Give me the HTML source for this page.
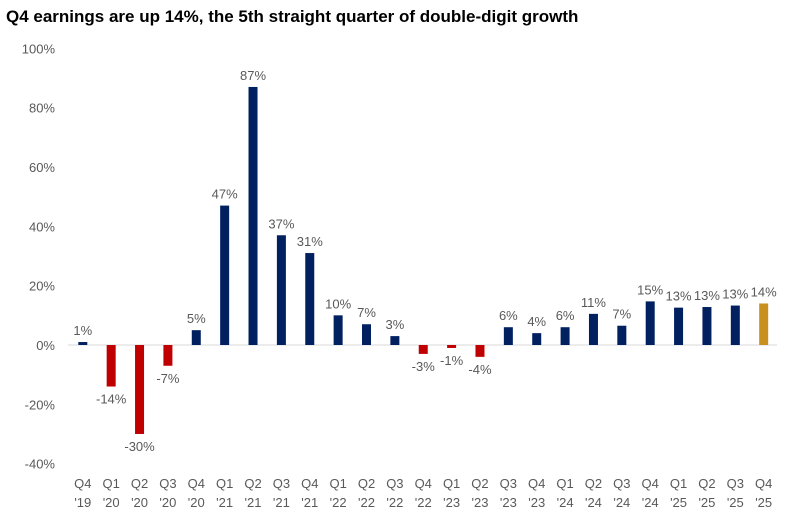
<!DOCTYPE html>
<html><head><meta charset="utf-8"><style>
body{margin:0;background:#fff;}
svg text{font-family:"Liberation Sans",sans-serif;}
</style></head><body>
<svg id="chart" width="791" height="523" xmlns="http://www.w3.org/2000/svg">
<text x="6" y="22" font-size="17" font-weight="bold" fill="#000">Q4 earnings are up 14%, the 5th straight quarter of double-digit growth</text>
<g id="yaxis"></g><g id="bars"></g><g id="xaxis"></g>
</svg>
<script>
const quarters=["Q4","Q1","Q2","Q3","Q4","Q1","Q2","Q3","Q4","Q1","Q2","Q3","Q4","Q1","Q2","Q3","Q4","Q1","Q2","Q3","Q4","Q1","Q2","Q3","Q4"];
const years=["'19","'20","'20","'20","'20","'21","'21","'21","'21","'22","'22","'22","'22","'23","'23","'23","'23","'24","'24","'24","'24","'25","'25","'25","'25"];
const values=[1,-14,-30,-7,5,47,87,37,31,10,7,3,-3,-1,-4,6,4,6,10.5,6.5,14.7,12.6,12.8,13.3,14];
const labels=["1%","-14%","-30%","-7%","5%","47%","87%","37%","31%","10%","7%","3%","-3%","-1%","-4%","6%","4%","6%","11%","7%","15%","13%","13%","13%","14%"];
const yTicks=[100,80,60,40,20,0,-20,-40];
const NS="http://www.w3.org/2000/svg";
const y0=345,pxPer=2.966,x0=82.8,step=28.37,bw=9;
const y=v=>y0-v*pxPer, x=i=>x0+i*step;
function mk(tag,attrs,parent,txt){const e=document.createElementNS(NS,tag);for(const k in attrs)e.setAttribute(k,attrs[k]);if(txt!==undefined)e.textContent=txt;parent.appendChild(e);return e;}
const ya=document.getElementById('yaxis'),ba=document.getElementById('bars'),xa=document.getElementById('xaxis');
yTicks.forEach(t=>{const e=mk('text',{x:55,y:y(t)+5,'font-size':13,fill:'#595959','text-anchor':'end'},ya,t+'%');

});
const zl=mk('line',{x1:68,x2:777,y1:y0,y2:y0,stroke:'#d9d9d9','stroke-width':1},ya);


values.forEach((v,i)=>{
 const col=i===values.length-1?'#c8901e':(v<0?'#c00000':'#002060');
 const top=Math.min(y(v),y0),h=Math.abs(y(v)-y0);
 const r=mk('rect',{x:x(i)-bw/2,y:top,width:bw,height:Math.max(h,1),fill:col},ba);
 
 
 const ly=v>=0?y(v)-7:y(v)+17;
 const t=mk('text',{x:x(i),y:ly,'font-size':13,fill:'#595959','text-anchor':'middle'},ba,labels[i]);
 
 
 const q=mk('text',{x:x(i),y:488,'font-size':13,fill:'#595959','text-anchor':'middle'},xa,quarters[i]);
 
 
 const yr=mk('text',{x:x(i),y:507,'font-size':13,fill:'#595959','text-anchor':'middle'},xa,years[i]);
 
 
});
</script>
</body></html>
